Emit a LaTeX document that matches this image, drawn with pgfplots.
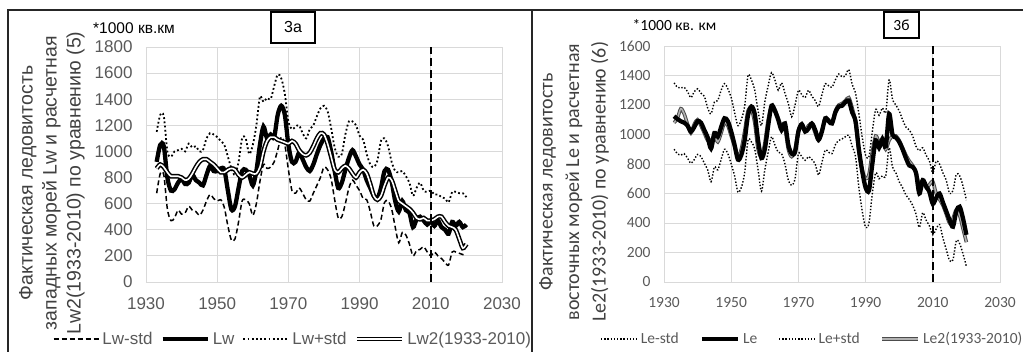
\documentclass[border=0pt]{standalone}
\usepackage{pgfplots}
\pgfplotsset{compat=1.18}
\usepackage{pgfplotstable}
\usepackage{fontspec}
\setmainfont{Liberation Sans}
\newfontfamily\calib{Carlito}
\definecolor{tickgray}{HTML}{595959}
\definecolor{labgray}{HTML}{404040}
\definecolor{gridgray}{HTML}{D9D9D9}

\pgfplotstableread{
year lo mid hi calc
1933 680 920 1150 870
1934 830 1050 1280 900
1935 820 1040 1270 880
1936 560 800 1000 840
1937 470 700 960 810
1938 490 710 1000 810
1939 550 760 1010 810
1940 520 790 1020 800
1941 530 750 1000 780
1942 580 760 1060 790
1943 550 820 1030 830
1944 540 780 1040 880
1945 510 760 1000 920
1946 550 740 1010 940
1947 620 820 1100 940
1948 670 890 1140 920
1949 640 850 1130 900
1950 620 850 1110 870
1951 630 870 1080 840
1952 570 860 1050 840
1953 430 700 960 860
1954 320 555 870 870
1955 330 580 820 860
1956 460 720 920 820
1957 620 850 1100 800
1958 630 860 1100 820
1959 600 820 980 840
1960 510 740 1050 830
1961 600 850 1200 830
1962 770 1050 1420 880
1963 900 1190 1380 1000
1964 870 1100 1410 1080
1965 880 1130 1400 1110
1966 920 1110 1500 1110
1967 1010 1280 1590 1090
1968 1110 1350 1560 1080
1969 1050 1280 1440 1070
1970 860 1050 1230 1060
1971 700 920 1170 1080
1972 680 920 1190 1060
1973 720 990 1200 1010
1974 680 940 1140 980
1975 630 880 1100 970
1976 620 850 1170 990
1977 680 900 1200 1040
1978 740 980 1270 1100
1979 800 1050 1330 1140
1980 880 1100 1350 1130
1981 860 1110 1310 1060
1982 790 1000 1180 960
1983 630 850 1030 860
1984 490 720 960 840
1985 500 760 980 870
1986 600 860 1130 890
1987 720 950 1230 870
1988 780 1010 1230 830
1989 740 960 1200 800
1990 700 900 1120 840
1991 640 860 1090 860
1992 630 780 980 830
1993 540 720 900 750
1994 430 660 880 660
1995 430 640 930 630
1996 480 720 1080 660
1997 610 850 1100 740
1998 620 860 1040 800
1999 560 770 920 780
2000 420 620 850 700
2001 300 540 840 620
2002 380 620 850 600
2003 360 550 810 580
2004 290 530 760 560
2005 200 420 660 530
2006 240 480 720 490
2007 250 500 760 480
2008 270 470 700 490
2009 230 440 690 470
2010 200 470 700 470
2011 230 430 670 480
2012 200 470 670 500
2013 180 420 650 500
2014 150 400 640 460
2015 130 370 610 430
2016 230 460 690 420
2017 230 430 690 400
2018 220 460 680 330
2019 210 420 680 260
2020 210 440 650 290
}\lefttab

\pgfplotstableread{
year lo mid hi calc
1933 900 1124 1350 1080
1934 870 1105 1320 1110
1935 860 1090 1315 1175
1936 870 1080 1320 1140
1937 840 1060 1290 1070
1938 805 1020 1250 1010
1939 830 1050 1290 1070
1940 865 1090 1310 1100
1941 850 1080 1280 1060
1942 805 1030 1260 1010
1943 760 980 1180 960
1944 680 905 1140 960
1945 780 1010 1220 990
1946 760 985 1230 950
1947 830 1050 1300 1010
1948 900 1110 1345 1080
1949 870 1090 1310 1060
1950 800 1020 1250 990
1951 720 930 1150 920
1952 610 830 1060 850
1953 640 860 1100 900
1954 740 960 1190 1020
1955 960 1130 1400 1160
1956 950 1190 1370 1170
1957 900 1140 1300 1080
1958 760 960 1160 900
1959 615 840 1060 850
1960 760 900 1220 940
1961 880 1060 1330 1100
1962 985 1195 1420 1190
1963 930 1160 1370 1170
1964 880 1100 1300 1110
1965 870 1030 1350 1050
1966 800 1075 1280 1040
1967 690 930 1210 900
1968 655 870 1120 850
1969 700 880 1200 900
1970 870 1020 1300 1030
1971 850 1070 1270 1060
1972 825 1020 1250 1030
1973 850 1040 1300 1060
1974 830 1075 1260 1070
1975 800 1030 1230 1010
1976 725 965 1190 960
1977 810 1020 1270 1030
1978 895 1110 1345 1100
1979 880 1090 1330 1100
1980 870 1075 1320 1080
1981 930 1150 1370 1160
1982 960 1190 1410 1200
1983 970 1195 1390 1210
1984 985 1220 1400 1230
1985 995 1230 1440 1250
1986 920 1150 1340 1180
1987 850 1090 1280 1080
1988 640 900 1140 880
1989 480 750 980 760
1990 370 640 860 700
1991 400 620 850 730
1992 600 800 1020 880
1993 740 960 1170 990
1994 700 910 1130 950
1995 720 970 1180 960
1996 720 920 1150 900
1997 910 1140 1370 960
1998 780 1000 1240 990
1999 740 980 1200 990
2000 680 950 1160 960
2001 640 900 1100 910
2002 590 840 1050 860
2003 560 790 1030 820
2004 520 780 990 790
2005 460 740 920 740
2006 370 600 890 660
2007 470 690 910 690
2008 420 650 860 640
2009 380 610 820 660
2010 320 530 740 680
2011 360 570 820 600
2012 390 600 800 560
2013 300 540 740 520
2014 220 480 690 460
2015 145 420 600 400
2016 150 375 620 430
2017 280 480 730 490
2018 260 510 720 450
2019 190 430 650 360
2020 105 320 555 270
}\righttab

\begin{document}
\begin{tikzpicture}[x=1pt,y=1pt]
\useasboundingbox (0,0) rectangle (1023,352);
\draw[line width=1.2pt, black!85] (8,-2) -- (8,342) -- (1025,342);
\draw[line width=1.2pt, black!85] (532,-2) -- (532,342);

% ---------- left panel ----------
\begin{axis}[
  at={(146pt,70pt)}, anchor=south west, scale only axis,
  width=356pt, height=235pt,
  xmin=1930, xmax=2030, ymin=0, ymax=1800,
  xtick={1930,1950,...,2030}, ytick={0,200,...,1800},
  grid=major, major grid style={draw=gridgray, line width=0.9pt},
  axis line style={draw=gridgray, line width=0.9pt},
  major tick length=0pt,
  /pgf/number format/1000 sep={},
  /pgf/number format/assume math mode=true,
  tick label style={font=\fontsize{17}{20}\selectfont, text=tickgray},
  yticklabel style={xshift=-10pt},
  xticklabel style={yshift=-12pt},
  ylabel={Фактическая ледовитость\\западных морей Lw  и расчетная\\Lw2(1933-2010) по уравнению (5)},
  ylabel style={align=center, font=\fontsize{19.5}{24}\selectfont, text=labgray,
    at={(axis description cs:-0.264,0.421)}, anchor=center},
  legend columns=4,
  legend style={draw=none, fill=none, at={(0.4115,-0.2426)}, anchor=center,
    font=\fontsize{17}{20}\selectfont, text=tickgray,
    /tikz/every odd column/.append style={column sep=2pt},
    /tikz/every even column/.append style={column sep=7pt},
    nodes={inner sep=1pt}},
  legend cell align=left,
  legend image code/.code={\draw[#1] (0pt,0pt) -- (45pt,0pt);},
]
\addplot[black, line width=1.5pt, dash pattern=on 5pt off 3pt, smooth, tension=0.5] table[x=year,y=lo]{\lefttab};
\addlegendentry{Lw-std}
\addplot[black, line width=4.3pt, smooth, tension=0.5] table[x=year,y=mid]{\lefttab};
\addlegendentry{Lw}
\addplot[black, line width=1.8pt, dash pattern=on 1.8pt off 2.4pt, smooth, tension=0.5] table[x=year,y=hi]{\lefttab};
\addlegendentry{Lw+std}
\addplot[black, line width=1.5pt, double=white, double distance=1.6pt, smooth, tension=0.5] table[x=year,y=calc]{\lefttab};
\addlegendentry{Lw2(1933-2010)}
\addplot[black, line width=2.6pt, dash pattern=on 8pt off 4pt, forget plot] coordinates {(2010,0) (2010,1800)};
\end{axis}
\node[font=\fontsize{15.5}{18}\selectfont] at (134,324) {*1000 кв.км};
\node[draw, line width=1.3pt, minimum width=44pt, minimum height=31pt, inner sep=0pt, font=\fontsize{16}{18}\selectfont] at (293,324.5) {3а};

% ---------- right panel ----------
\begin{axis}[
  at={(664pt,70pt)}, anchor=south west, scale only axis,
  width=336pt, height=236pt,
  xmin=1930, xmax=2030, ymin=0, ymax=1600,
  xtick={1930,1950,...,2030}, ytick={0,200,...,1600},
  grid=major, major grid style={draw=gridgray, line width=0.9pt},
  axis line style={draw=gridgray, line width=0.9pt},
  major tick length=0pt,
  /pgf/number format/1000 sep={},
  /pgf/number format/assume math mode=true,
  tick label style={font=\calib\fontsize{15.5}{18}\selectfont, text=tickgray},
  yticklabel style={xshift=-10pt},
  xticklabel style={yshift=-12pt},
  ylabel={Фактическая ледовитость\\восточных морей Le и расчетная\\Le2(1933-2010) по уравнению (6)},
  ylabel style={align=center, font=\calib\fontsize{20}{26.5}\selectfont, text=labgray,
    at={(axis description cs:-0.268,0.424)}, anchor=center},
  legend columns=4,
  legend style={draw=none, fill=none, at={(0.44,-0.2415)}, anchor=center,
    font=\calib\fontsize{15.5}{18}\selectfont, text=tickgray,
    /tikz/every odd column/.append style={column sep=2pt},
    /tikz/every even column/.append style={column sep=20pt},
    nodes={inner sep=1pt}},
  legend cell align=left,
  legend image code/.code={\draw[#1] (0pt,0pt) -- (36pt,0pt);},
]
\addplot[black!70, line width=1.0pt, double=black!30, double distance=1.5pt, smooth, tension=0.5, forget plot] table[x=year,y=calc]{\righttab};
\addplot[black, line width=1.4pt, dash pattern=on 1.4pt off 1.8pt, smooth, tension=0.5] table[x=year,y=lo]{\righttab};
\addlegendentry{Le-std}
\addplot[black, line width=4.3pt, smooth, tension=0.5] table[x=year,y=mid]{\righttab};
\addlegendentry{Le}
\addplot[black, line width=1.4pt, dash pattern=on 1.4pt off 1.8pt, smooth, tension=0.5] table[x=year,y=hi]{\righttab};
\addlegendentry{Le+std}
\addlegendimage{black!70, line width=1.0pt, double=black!30, double distance=1.5pt}
\addlegendentry{Le2(1933-2010)}
\addplot[black, line width=2.4pt, dash pattern=on 8pt off 4pt, forget plot] coordinates {(2010,0) (2010,1600)};
\end{axis}
\node[font=\calib\fontsize{15.5}{18}\selectfont] at (674.5,327) {*1000 кв. км};
\node[draw, line width=1.2pt, minimum width=35pt, minimum height=26pt, inner sep=0pt, font=\calib\fontsize{15.5}{18}\selectfont] at (901.5,327) {3б};
\end{tikzpicture}
\end{document}
